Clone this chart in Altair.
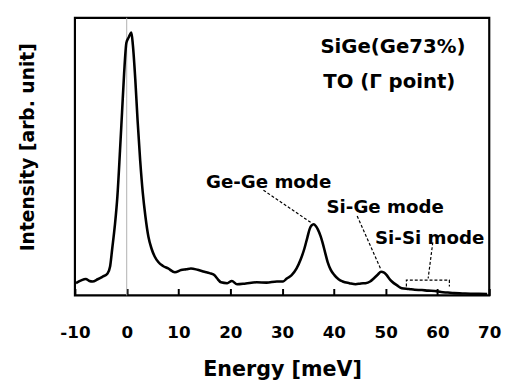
import altair as alt
import pandas as pd

energy = [-9.8, -8.8, -7.9, -7.2, -6.6, -5.6, -4.7, -3.7, -3.2, -2.8, -2.3, -1.8, -1.3, -0.9, -0.5, -0.06, 0.4,
          0.9, 1.2, 1.65, 2.1, 2.6, 3.1, 3.6, 4.2, 4.8, 5.4, 6.1, 7.0, 8.0, 9.3, 10.5, 11.5, 12.4, 13.7, 15.0,
          16.0, 16.9, 17.6, 18.2, 19.4, 20.3, 21.3, 23.0, 25.1, 27.0, 29.0, 30.2, 30.9, 31.8, 32.8, 33.6, 34.3,
          34.9, 35.3, 35.7, 36.1, 36.5, 36.9, 37.4, 37.8, 38.3, 38.8, 39.4, 40.1, 40.9, 41.7, 43.0, 44.2, 45.2,
          46.1, 47.0, 47.7, 48.5, 49.1, 49.7, 50.2, 50.7, 51.2, 52.2, 53.1, 54.5, 55.6, 57.0, 58.2, 59.5, 60.7,
          62.0, 63.2, 64.8, 66.4, 68.0, 69.6]
intensity = [4.4, 5.4, 5.9, 5.2, 5.0, 5.8, 6.7, 7.9, 10.5, 16.8, 25.0, 35.7, 52.0, 66.0, 80.0, 91.0, 93.0,
             94.7, 90.0, 78.0, 63.0, 48.6, 37.0, 28.6, 21.0, 16.8, 14.0, 12.0, 10.6, 9.7, 8.3, 9.1, 9.4, 9.7,
             9.2, 8.5, 8.0, 7.3, 5.8, 4.7, 4.4, 5.2, 4.0, 4.3, 4.7, 4.6, 5.0, 5.0, 6.1, 7.2, 9.7, 13.0, 16.8,
             21.0, 23.8, 25.2, 25.6, 25.0, 23.8, 21.5, 19.1, 15.5, 12.0, 9.2, 7.3, 5.8, 5.0, 4.4, 4.0, 4.3, 4.4,
             5.0, 6.1, 7.5, 8.5, 8.2, 7.3, 6.0, 5.0, 3.6, 2.6, 2.3, 2.0, 1.9, 1.7, 1.6, 1.2, 1.0, 0.8, 0.7, 0.6,
             0.6, 0.5]

tick_values = [-10, 0, 10, 20, 30, 40, 50, 60, 70]

label_text = ["Ge-Ge mode", "Si-Ge mode", "Si-Si mode"]
label_x = [27.4, 49.9, 58.5]
label_y = [40.9, 31.8, 20.8]

title_text = ["SiGe(Ge73%)", "TO (\u0393 point)"]
title_x = [51.4, 50.7]
title_y = [89.4, 77.0]

leader_x = [26.4, 44.5, 59.1]
leader_y = [37.9, 28.6, 19.1]
leader_x2 = [35.6, 49.0, 58.2]
leader_y2 = [26.2, 9.7, 6.1]

bracket_x = [54.0, 54.0, 62.3, 62.3]
bracket_y = [3.2, 5.5, 5.5, 3.2]

FONT = "DejaVu Sans"
W, H = 421, 282
TICK = 7

xscale = alt.Scale(domain=[-10, 70], nice=False, zero=False)
yscale = alt.Scale(domain=[0, 100], nice=False)

spec = pd.DataFrame({"E": energy, "I": intensity})
labels = pd.DataFrame({"t": label_text, "x": label_x, "y": label_y})
titles = pd.DataFrame({"t": title_text, "x": title_x, "y": title_y})
leaders = pd.DataFrame({"x": leader_x, "y": leader_y, "x2": leader_x2, "y2": leader_y2})
bracket = pd.DataFrame({"x": bracket_x, "y": bracket_y, "o": list(range(len(bracket_x)))})
zero = pd.DataFrame({"v": [0]})

line = alt.Chart(spec).mark_line(color="black", strokeWidth=2.6, strokeJoin="round", interpolate="monotone").encode(
    x=alt.X("E:Q", scale=xscale,
            axis=alt.Axis(title="Energy [meV]", values=tick_values, ticks=True, tickSize=TICK, tickWidth=2,
                          tickColor="black", offset=-TICK, domain=False, grid=False,
                          labelExpr="'' + datum.value",
                          labelFont=FONT, labelFontSize=17, labelFontWeight="bold", labelColor="black",
                          labelPadding=30, titleFont=FONT, titleFontSize=21, titleFontWeight="bold",
                          titleColor="black", titlePadding=18, labelFlush=False)),
    y=alt.Y("I:Q", scale=yscale,
            axis=alt.Axis(title="Intensity [arb. unit]", labels=False, ticks=False, domain=False, grid=False,
                          titleFont=FONT, titleFontSize=19, titleFontWeight="bold", titleColor="black",
                          titlePadding=38, titleY=131)),
)

zline = alt.Chart(zero).mark_rule(color="#b0b0b0", strokeWidth=1).encode(x=alt.X("v:Q", scale=xscale))

lead = alt.Chart(leaders).mark_rule(color="black", strokeWidth=1.2, strokeDash=[3, 2]).encode(
    x=alt.X("x:Q", scale=xscale), y=alt.Y("y:Q", scale=yscale), x2="x2:Q", y2="y2:Q")

br = alt.Chart(bracket).mark_line(color="black", strokeWidth=1.2, strokeDash=[3, 2]).encode(
    x=alt.X("x:Q", scale=xscale), y=alt.Y("y:Q", scale=yscale), order="o:Q")

lab = alt.Chart(labels).mark_text(font=FONT, fontSize=18.5, fontWeight="bold", color="black").encode(
    x=alt.X("x:Q", scale=xscale), y=alt.Y("y:Q", scale=yscale), text="t:N")

ttl = alt.Chart(titles).mark_text(font=FONT, fontSize=20, fontWeight="bold", color="black").encode(
    x=alt.X("x:Q", scale=xscale), y=alt.Y("y:Q", scale=yscale), text="t:N")

chart = alt.layer(zline, line, lead, br, lab, ttl).properties(
    width=W, height=H, autosize=alt.AutoSizeParams(type="none"),
    padding={"left": 68, "top": 7, "right": 16, "bottom": 83},
).configure(background="white").configure_view(stroke="black", strokeWidth=2.2)

chart.save("out.html", embed_options={"renderer": "svg", "actions": False})
